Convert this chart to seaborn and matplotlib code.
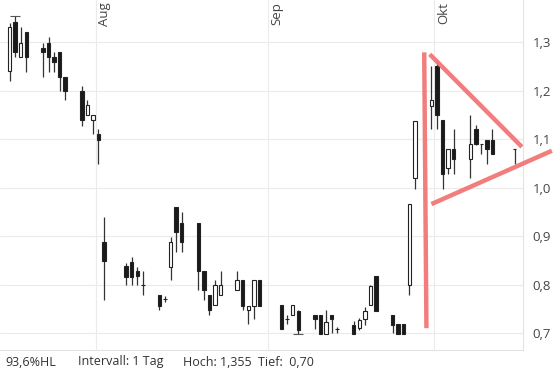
import numpy as np
import pandas as pd
import seaborn as sns
import matplotlib.pyplot as plt
import matplotlib.dates as mdates
import matplotlib.transforms as mtransforms

sns.set_style("whitegrid")
plt.rcParams["font.family"] = ["Open Sans", "DejaVu Sans"]

dates = [
    "2019-07-16", "2019-07-17", "2019-07-18", "2019-07-19",
    "2019-07-22", "2019-07-23", "2019-07-24", "2019-07-25", "2019-07-26",
    "2019-07-29", "2019-07-30", "2019-07-31", "2019-08-01", "2019-08-02",
    "2019-08-06", "2019-08-07", "2019-08-08", "2019-08-09",
    "2019-08-12", "2019-08-13", "2019-08-14", "2019-08-15", "2019-08-16",
    "2019-08-19", "2019-08-20", "2019-08-21", "2019-08-22", "2019-08-23",
    "2019-08-26", "2019-08-27", "2019-08-28", "2019-08-29", "2019-08-30",
    "2019-09-03", "2019-09-04", "2019-09-05", "2019-09-06",
    "2019-09-09", "2019-09-10", "2019-09-11", "2019-09-12", "2019-09-13",
    "2019-09-16", "2019-09-17", "2019-09-18", "2019-09-19", "2019-09-20",
    "2019-09-23", "2019-09-24", "2019-09-25", "2019-09-26", "2019-09-27",
    "2019-09-30", "2019-10-01", "2019-10-02", "2019-10-03", "2019-10-04",
    "2019-10-07", "2019-10-08", "2019-10-09", "2019-10-10", "2019-10-11",
    "2019-10-15",
]
opens = [
    1.240, 1.342, 1.270, 1.320,
    1.289, 1.299, 1.270, 1.280, 1.228,
    1.200, 1.149, 1.139, 1.110, 0.888,
    0.838, 0.847, 0.828, 0.799,
    0.778, 0.770, 0.837, 0.959, 0.928,
    0.928, 0.828, 0.778, 0.758, 0.778,
    0.789, 0.809, 0.747, 0.756, 0.809,
    0.758, 0.728, 0.737, 0.745,
    0.737, 0.737, 0.697, 0.737, 0.708,
    0.716, 0.711, 0.729, 0.757, 0.818,
    0.737, 0.718, 0.718, 0.799, 1.019,
    1.168, 1.250, 1.139, 1.040, 1.079,
    1.058, 1.120, 1.090, 1.099, 1.099,
    1.079,
]
highs = [
    1.339, 1.355, 1.332, 1.320,
    1.299, 1.311, 1.280, 1.280, 1.228,
    1.209, 1.180, 1.149, 1.120, 0.939,
    0.844, 0.857, 0.837, 0.828,
    0.778, 0.777, 0.899, 0.959, 0.949,
    0.928, 0.828, 0.778, 0.809, 0.828,
    0.828, 0.809, 0.756, 0.809, 0.809,
    0.758, 0.737, 0.758, 0.747,
    0.737, 0.737, 0.747, 0.737, 0.713,
    0.725, 0.731, 0.754, 0.800, 0.818,
    0.737, 0.718, 0.718, 0.967, 1.138,
    1.250, 1.262, 1.139, 1.079, 1.120,
    1.149, 1.129, 1.090, 1.099, 1.120,
    1.079,
]
lows = [
    1.220, 1.270, 1.270, 1.239,
    1.228, 1.239, 1.239, 1.200, 1.180,
    1.127, 1.149, 1.110, 1.048, 0.768,
    0.799, 0.799, 0.799, 0.778,
    0.747, 0.763, 0.809, 0.868, 0.868,
    0.789, 0.768, 0.737, 0.758, 0.778,
    0.789, 0.747, 0.719, 0.729, 0.756,
    0.708, 0.719, 0.737, 0.698,
    0.708, 0.698, 0.700, 0.700, 0.700,
    0.699, 0.706, 0.716, 0.757, 0.746,
    0.700, 0.698, 0.698, 0.778, 0.998,
    1.120, 1.120, 0.998, 1.029, 1.029,
    1.019, 1.088, 1.069, 1.048, 1.069,
    1.048,
]
closes = [
    1.332, 1.280, 1.299, 1.270,
    1.280, 1.270, 1.259, 1.228, 1.200,
    1.139, 1.170, 1.149, 1.099, 0.848,
    0.816, 0.816, 0.818, 0.799,
    0.756, 0.770, 0.888, 0.908, 0.888,
    0.828, 0.789, 0.747, 0.799, 0.799,
    0.809, 0.756, 0.756, 0.809, 0.756,
    0.708, 0.728, 0.758, 0.706,
    0.728, 0.698, 0.723, 0.728, 0.708,
    0.699, 0.727, 0.745, 0.798, 0.746,
    0.716, 0.698, 0.698, 0.967, 1.138,
    1.180, 1.149, 1.029, 1.079, 1.058,
    1.090, 1.090, 1.090, 1.079, 1.069,
    1.079,
]

month_ticks = ["2019-08-01", "2019-09-01", "2019-10-01"]
month_labels = ["Aug", "Sep", "Okt"]
y_ticks = [0.7, 0.8, 0.9, 1.0, 1.1, 1.2, 1.3]

# pattern lines drawn on top (date offset in days from Aug 1, price)
tri_vertical = ([59.2, 59.6], [1.279, 0.710])
tri_upper = ([60.2, 76.8], [1.275, 1.084])
tri_lower = ([60.5, 82.2], [0.966, 1.076])

df = pd.DataFrame({"date": pd.to_datetime(dates), "open": opens, "high": highs,
                   "low": lows, "close": closes})
df["x"] = mdates.date2num(df["date"]) + 0.5
df["up"] = df["close"] >= df["open"]

W, H = 558, 378
fig = plt.figure(figsize=(W / 100, H / 100), dpi=100)
ax = fig.add_axes([0, 1 - 350 / H, 523 / W, 350 / H])

x0 = mdates.date2num(pd.Timestamp("2019-08-01"))
ax.set_xlim(x0 - 17.24, x0 + 77.0)
ax.set_ylim(0.665, 1.387)

# wicks
ax.vlines(df["x"], df["low"], df["high"], color="#333333", lw=0.9, zorder=3)
# bodies
body_lo = np.minimum(df["open"], df["close"])
body_h = np.maximum(np.abs(df["close"] - df["open"]), 0.0005)
ax.bar(df["x"], body_h, bottom=body_lo, width=0.62,
       color=np.where(df["up"], "white", "#1a1a1a"),
       edgecolor="#222222", linewidth=0.8, zorder=4)

# high / low markers
i_hi = df["high"].idxmax()
i_lo = df["low"].idxmin()
ax.hlines(df.loc[i_hi, "high"], df.loc[i_hi, "x"] - 0.9, df.loc[i_hi, "x"] + 0.9,
          color="#555555", lw=0.8, zorder=3)
ax.hlines(df.loc[i_lo, "low"], df.loc[i_lo, "x"] - 0.9, df.loc[i_lo, "x"] + 0.9,
          color="#555555", lw=0.8, zorder=3)

# triangle annotation
for xs, ys in (tri_vertical, tri_upper, tri_lower):
    ax.plot([x0 + v for v in xs], ys, color="#f27676", lw=3.2,
            solid_capstyle="butt", clip_on=False, zorder=6, alpha=0.95)

# axes styling
mt = mdates.date2num(pd.to_datetime(month_ticks))
ax.set_xticks(mt)
ax.set_xticklabels([])
ax.tick_params(axis="x", length=0)
ax.yaxis.tick_right()
ax.set_yticks(y_ticks)
ax.set_yticklabels([f"{v:.1f}".replace(".", ",") for v in y_ticks])
ax.tick_params(axis="y", length=0, pad=7, labelsize=9.5, labelcolor="#444444")
ax.grid(True, color="#ebebeb", lw=0.8)
for side in ["left", "top"]:
    ax.spines[side].set_visible(False)
for side in ["right", "bottom"]:
    ax.spines[side].set_color("#e3e3e3")
    ax.spines[side].set_linewidth(0.8)

trans = mtransforms.blended_transform_factory(ax.transData, ax.transAxes)
for xm, lab in zip(mt, month_labels):
    ax.text(xm + 0.5, 0.995, lab, transform=trans, rotation=90, va="top",
            ha="left", fontsize=9.5, color="#444444")

# footer
footer = [(5, "93,6%HL"), (78, "Intervall: 1 Tag"), (183, "Hoch: 1,355"), (258, "Tief:  0,70")]
for px, txt in footer:
    fig.text(px / W, 1 - 362 / H, txt, fontsize=9, color="#333333", va="center", ha="left")

fig.savefig("out.png", dpi=100)
